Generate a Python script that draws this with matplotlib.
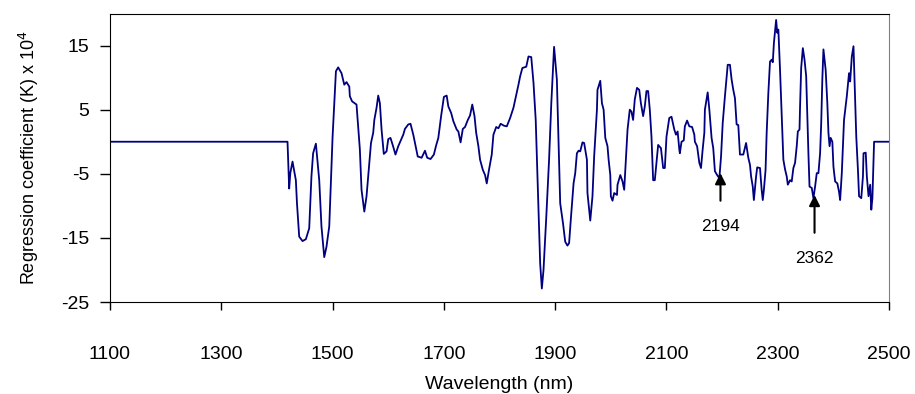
#!/usr/bin/env python3
"""Regression coefficient spectrum (K x 10^4) against wavelength."""

import matplotlib

matplotlib.use("Agg")
import matplotlib.pyplot as plt

wavelength = [
    1100, 1419, 1422, 1424, 1428, 1434, 1436, 1440, 1446, 1452, 1458, 1462, 1465, 1470,
    1476, 1480, 1485, 1489, 1494, 1500, 1506, 1510, 1516, 1521, 1525, 1530, 1531, 1535,
    1543, 1549, 1552, 1557, 1561, 1565, 1569, 1573, 1575, 1579, 1582, 1585, 1588, 1592,
    1597, 1600, 1604, 1608, 1613, 1618, 1627, 1630, 1636, 1640, 1645, 1648, 1653, 1660,
    1666, 1670, 1676, 1682, 1686, 1690, 1695, 1700, 1705, 1708, 1713, 1717, 1723, 1726,
    1730, 1734, 1738, 1743, 1747, 1751, 1755, 1758, 1762, 1765, 1770, 1774, 1777, 1781,
    1786, 1789, 1794, 1798, 1802, 1808, 1813, 1819, 1825, 1830, 1834, 1837, 1841, 1848,
    1852, 1857, 1861, 1865, 1870, 1873, 1876, 1879, 1884, 1889, 1893, 1898, 1903, 1906,
    1909, 1914, 1918, 1922, 1925, 1928, 1933, 1936, 1939, 1942, 1945, 1949, 1952, 1957,
    1958, 1963, 1967, 1970, 1975, 1976, 1981, 1984, 1987, 1990, 1994, 1996, 1999, 2000,
    2003, 2006, 2011, 2012, 2017, 2021, 2024, 2027, 2030, 2034, 2037, 2040, 2043, 2047,
    2051, 2054, 2058, 2061, 2064, 2067, 2070, 2073, 2076, 2079, 2082, 2085, 2090, 2093,
    2094, 2097, 2100, 2105, 2109, 2114, 2117, 2120, 2123, 2124, 2127, 2131, 2133, 2137,
    2141, 2146, 2150, 2151, 2155, 2159, 2162, 2165, 2168, 2169, 2174, 2177, 2181, 2184,
    2187, 2191, 2195, 2198, 2201, 2205, 2210, 2214, 2217, 2220, 2223, 2226, 2229, 2232,
    2238, 2243, 2247, 2250, 2252, 2255, 2257, 2261, 2263, 2268, 2271, 2273, 2275, 2278,
    2280, 2283, 2286, 2289, 2291, 2293, 2297, 2299, 2301, 2304, 2307, 2310, 2313, 2316,
    2318, 2322, 2325, 2328, 2331, 2334, 2336, 2339, 2340, 2342, 2345, 2348, 2351, 2353,
    2355, 2357, 2361, 2364, 2367, 2370, 2373, 2376, 2378, 2380, 2382, 2386, 2389, 2391,
    2393, 2395, 2398, 2400, 2403, 2407, 2410, 2412, 2415, 2419, 2424, 2428, 2430, 2433,
    2436, 2438, 2441, 2444, 2446, 2450, 2453, 2454, 2458, 2460, 2463, 2466, 2468, 2470,
    2473, 2500,
]

coefficient = [
    0, 0, -7.3, -4.9, -3.1, -6.0, -9.6, -14.8, -15.5, -15.2, -13.5, -5.4, -1.8, -0.3,
    -6.0, -13.2, -18.0, -16.4, -13.2, 0.8, 11.0, 11.6, 10.7, 8.9, 9.3, 8.6, 7.1, 6.3,
    5.8, -1.2, -7.5, -10.9, -8.5, -4.4, -0.2, 1.4, 3.4, 5.3, 7.2, 6.0, 1.9, -1.9,
    -1.5, 0.4, 0.6, -0.5, -2.0, -0.7, 1.1, 2.0, 2.7, 2.8, 1.1, -0.2, -2.3, -2.5,
    -1.4, -2.5, -2.7, -2.0, -0.6, 0.6, 4.0, 7.0, 7.2, 5.5, 4.5, 3.2, 1.9, 1.6,
    -0.1, 2.0, 2.3, 3.4, 4.1, 5.8, 4.0, 1.4, -0.7, -2.8, -4.4, -5.2, -6.5, -4.4,
    -2.0, 1.1, 2.3, 2.1, 2.8, 2.5, 2.4, 3.7, 5.3, 7.3, 8.9, 10.2, 11.5, 11.7,
    13.3, 13.2, 9.2, 3.4, -10.6, -19.0, -22.9, -20.0, -11.7, -2.8, 6.0, 14.8, 9.7, 0.3,
    -9.6, -12.7, -15.6, -16.2, -15.8, -12.2, -6.5, -4.9, -1.8, -1.4, -1.5, -0.1, -0.2, -2.8,
    -8.0, -12.3, -8.5, -2.3, 5.0, 8.1, 9.5, 6.0, 5.0, 0.6, -0.7, -2.8, -5.2, -8.5,
    -9.2, -8.0, -8.3, -6.7, -5.2, -6.2, -7.5, -2.8, 1.9, 5.0, 4.7, 3.4, 6.6, 8.4,
    8.1, 6.0, 4.0, 5.5, 7.9, 7.9, 5.0, 0.8, -6.0, -6.0, -3.3, -0.5, -1.0, -3.3,
    -4.1, -4.1, 0.8, 3.7, 3.9, 1.9, 1.1, 1.6, -1.2, -1.8, 0.0, 0.2, 2.4, 3.3,
    2.4, 2.3, 1.1, 0.0, -0.7, -3.3, -4.1, -1.2, 1.4, 5.0, 7.7, 5.0, 0.6, -1.0,
    -4.6, -5.2, -5.7, -2.3, 2.9, 7.1, 12.0, 12.0, 9.7, 8.1, 6.8, 2.7, 2.6, -2.0,
    -2.0, -0.2, -2.5, -3.6, -5.4, -7.0, -9.1, -5.4, -4.0, -4.1, -7.5, -9.1, -7.5, -4.4,
    1.4, 7.6, 12.5, 12.8, 12.4, 15.4, 19.0, 17.0, 17.5, 11.2, 4.0, -2.8, -4.3, -5.4,
    -6.7, -6.0, -6.2, -4.1, -3.3, -0.7, 1.6, 1.9, 5.5, 11.5, 14.6, 12.8, 10.2, 4.0,
    -1.8, -7.0, -7.2, -8.8, -7.0, -4.9, -4.9, -1.8, 2.9, 9.7, 14.4, 11.2, 6.0, 1.4,
    -0.7, 0.6, 0.0, -3.9, -6.2, -6.5, -7.8, -9.1, -4.9, 3.4, 7.1, 10.7, 9.4, 13.3,
    14.9, 9.4, 0.8, -4.4, -8.5, -8.8, -5.4, -1.8, -1.7, -5.4, -8.5, -6.7, -10.6, -8.8,
    0, 0,
]

# marked bands: label, arrow x, arrow tip y, arrow tail y, label y
band_labels = ["2194", "2362"]
band_x = [2197, 2366]
band_tip = [-4.9, -8.3]
band_tail = [-9.2, -14.2]
band_text_y = [-13.3, -18.2]

x_ticks = [1100, 1300, 1500, 1700, 1900, 2100, 2300, 2500]
y_ticks = [-25, -15, -5, 5, 15]

plt.rcParams["font.family"] = ["Liberation Sans", "DejaVu Sans"]
plt.rcParams["axes.unicode_minus"] = False


def main() -> int:
    fig = plt.figure(figsize=(9.15, 3.94), dpi=100)
    ax = fig.add_axes([0.1202, 0.2335, 0.8515, 0.7322])

    ax.plot(wavelength, coefficient, color="#000080", lw=1.3)

    for label, x, tip, tail, ty in zip(band_labels, band_x, band_tip, band_tail, band_text_y):
        ax.annotate("", xy=(x, tip), xytext=(x, tail),
                    arrowprops=dict(arrowstyle="-|>", color="black", lw=1.5, mutation_scale=16,
                                    shrinkA=0, shrinkB=0))
        ax.text(x, ty, label, ha="center", va="center", fontsize=12.5)

    ax.set_xlim(1100, 2500)
    ax.set_ylim(-25, 20)
    ax.set_xticks(x_ticks)
    ax.set_yticks(y_ticks)
    ax.tick_params(axis="x", direction="out", length=6, width=1, pad=26, labelsize=14)
    ax.tick_params(axis="y", direction="out", length=7, width=1, pad=8, labelsize=14)
    for side in ("left", "bottom", "top"):
        ax.spines[side].set_color("black")
    ax.spines["right"].set_color("#808080")

    ax.set_xlabel("Wavelength (nm)", fontsize=14, labelpad=9)
    ax.set_ylabel(r"Regression coefficient (K) x 10$^4$", fontsize=13, labelpad=14)

    fig.savefig("out.png", dpi=100)
    plt.close(fig)
    return 0


if __name__ == "__main__":
    raise SystemExit(main())
